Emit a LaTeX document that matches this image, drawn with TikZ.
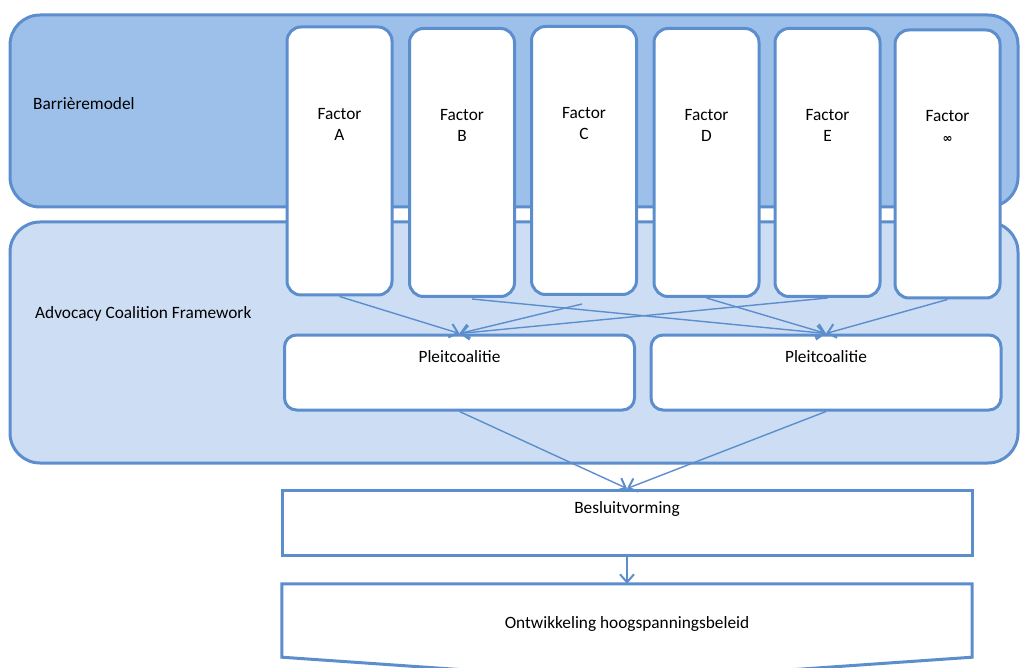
\documentclass[tikz,border=0pt]{standalone}
\usepackage{fontspec}
\setmainfont{Carlito}
\newfontfamily\symfont{DejaVu Sans}
\usetikzlibrary{arrows.meta,calc}
\definecolor{topfill}{RGB}{157,192,234}
\definecolor{midfill}{RGB}{205,222,244}
\definecolor{edge}{RGB}{92,142,206}
\begin{document}
\begin{tikzpicture}[x=1pt,y=-1pt,
  every node/.style={font=\fontsize{17.3}{21}\selectfont, text=black},
  band/.style={draw=edge, line width=3pt, rounded corners=30pt, inner sep=0pt, minimum width=1008pt},
  factorbox/.style={draw=edge, fill=white, line width=3pt, rounded corners=14pt, minimum width=105pt, minimum height=268pt, inner sep=0pt},
  pleitbox/.style={draw=edge, fill=white, line width=3pt, rounded corners=12pt, minimum width=350pt, minimum height=75pt, inner sep=0pt},
  flowbox/.style={draw=edge, fill=white, line width=3pt, minimum width=690pt, minimum height=65pt, inner sep=0pt},
  lbl/.style={align=center, inner sep=0pt},
  conn/.style={draw=edge, line width=1.4pt, -{Straight Barb[length=8pt,width=14pt,line width=2pt]}}
]
\useasboundingbox (0,0) rectangle (1020,668);
\clip (0,0) rectangle (1020,668);
% bands
\node[band, fill=topfill, minimum height=192pt] (barr) at (514,111) {};
\node[band, fill=midfill, minimum height=241pt] (acf) at (514,342.5) {};
\node[lbl, anchor=west] (tbarr) at (33,104) {Barrièremodel};
\node[lbl, anchor=west] (tacf) at (35,314) {Advocacy Coalition Framework};
% factor boxes
\node[factorbox] (A) at (339.5,161) {};
\node[factorbox] (B) at (462,162.5) {};
\node[factorbox] (C) at (584,160.5) {};
\node[factorbox] (D) at (706.5,162.5) {};
\node[factorbox] (E) at (827.5,162.5) {};
\node[factorbox] (F) at (947.5,164) {};
\node[lbl] (tA) at (339.5,124) {Factor\\A};
\node[lbl] (tB) at (462,125) {Factor\\B};
\node[lbl] (tC) at (584,124) {Factor\\C};
\node[lbl] (tD) at (706.5,125) {Factor\\D};
\node[lbl] (tE) at (827.5,125) {Factor\\E};
\node[lbl] (tF) at (947.5,126) {Factor\\{\symfont\bfseries\fontsize{12}{21}\selectfont ∞}};
% pleitcoalities
\node[pleitbox] (PL) at (459.5,372.5) {};
\node[pleitbox] (PR) at (826,372.5) {};
\node[lbl] (tPL) at (459.5,357) {Pleitcoalitie};
\node[lbl] (tPR) at (826,357) {Pleitcoalitie};
% factor -> pleit
\draw[conn] (A.south) -- (PL.north);
\draw[conn] ($(B.south)+(10,1)$) -- (PR.north);
\draw[conn] ($(C.south)+(-2,8)$) -- (PL.north);
\draw[conn] (D.south) -- (PR.north);
\draw[conn] (E.south) -- (PL.north);
\draw[conn] (F.south) -- (PR.north);
% besluitvorming
\node[flowbox] (BV) at (627,522.5) {};
\node[lbl] (tBV) at (627,509) {Besluitvorming};
\draw[conn] (PL.south) -- (BV.north);
\draw[conn] (PR.south) -- (BV.north);
% ontwikkeling
\node[minimum width=690pt, minimum height=73pt, inner sep=0pt] (O) at (627,620.5) {};
\draw[draw=edge, fill=white, line width=3pt] (O.north west) -- (O.north east) -- (O.south east) -- ($(O.south)+(0,24)$) -- (O.south west) -- cycle;
\node[lbl] (tO) at (627,624) {Ontwikkeling hoogspanningsbeleid};
\draw[conn] (BV.south) -- (O.north);
\end{tikzpicture}
\end{document}
